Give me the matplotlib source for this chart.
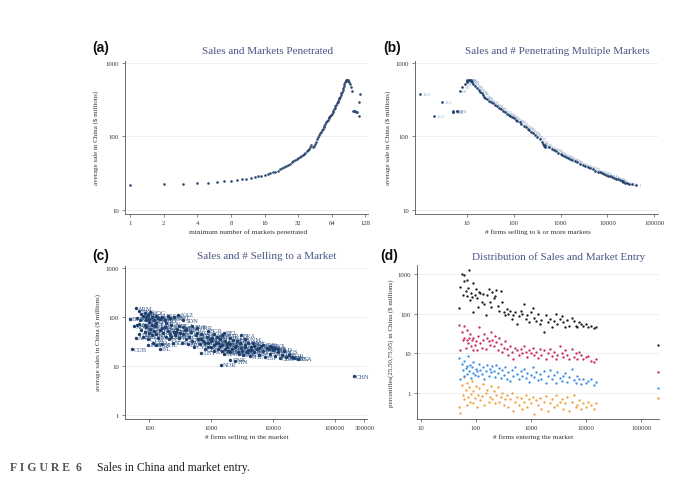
import matplotlib
matplotlib.use("Agg")
import matplotlib.pyplot as plt
from matplotlib.ticker import FixedLocator, FixedFormatter, NullLocator

# ---------------- data ----------------
# Panel (a)/(b): k = minimum number of markets penetrated
k_markets = [1, 2, 3, 4, 5, 6, 7, 8, 9, 10,
             11, 12, 13, 14, 15, 16, 17, 18, 19, 20,
             21, 22, 23, 24, 25, 26, 27, 28, 29, 30,
             31, 32, 33, 34, 35, 36, 37, 38, 39, 40,
             41, 42, 43, 44, 45, 46, 47, 48, 49, 50,
             51, 52, 53, 54, 55, 56, 57, 58, 59, 60,
             61, 62, 63, 64, 65, 66, 67, 68, 69, 70,
             71, 72, 73, 74, 75, 76, 77, 78, 79, 80,
             81, 82, 83, 84, 85, 86, 87, 88, 89, 90,
             91, 93, 96, 98, 100, 102, 104, 106, 108, 111,
             113, 114]
avg_sale = [22.1, 22.4, 22.6, 23.1, 23.3, 24.0, 24.6, 25.1, 25.6, 26.1,
            26.7, 27.3, 28.0, 28.6, 29.3, 30.0, 30.8, 31.6, 32.4, 33.3,
            34.4, 35.6, 36.9, 38.2, 39.6, 41.0, 42.7, 44.6, 46.0, 47.5,
            49.0, 50.6, 52.4, 54.3, 56.1, 58.0, 60.3, 62.7, 65.2, 68.0,
            72.0, 77.0, 71.0, 74.0, 79.0, 85.0, 91.0, 98.0, 104, 110,
            116, 122, 128, 134, 141, 149, 155, 162, 170, 177,
            184, 191, 197, 204, 214, 225, 236, 246, 258, 270,
            282, 294, 308, 322, 336, 350, 365, 385, 405, 424,
            450, 480, 515, 550, 570, 580, 582, 578, 580, 565,
            560, 520, 468, 412, 224, 222, 220, 218, 218, 292,
            192, 380]
n_firms_k = [41000, 33000, 29000, 26000, 23500, 22000, 21000, 20000, 18500, 17000,
             15400, 14100, 12700, 11600, 10400, 9500, 8450, 7600, 6800, 6240,
             5530, 4940, 4330, 3840, 3370, 2990, 2600, 2230, 1990, 1780,
             1600, 1450, 1320, 1190, 1090, 1000, 900, 810, 728, 646,
             555, 475, 455, 435, 415, 395, 356, 314, 284, 258,
             236, 216, 199, 183, 164, 145, 133, 120, 109, 99,
             91, 84, 78.5, 72.4, 65.5, 58.6, 52.6, 48.0, 43.1, 39.1,
             35.5, 32.4, 29.1, 26.4, 24.8, 23.4, 22.0, 20.5, 19.1, 17.9,
             16.4, 15.0, 13.5, 13, 12, 12, 11, 11, 10, 10,
             10, 9, 8, 7, 6, 6, 5, 5, 5, 3,
             2, 1]

# Panel (c): markets
c_codes = ["ARM", "BEN", "AZE", "BFA", "BDI", "CAF", "TCD", "COM", "COG", "DJI",
           "ERI", "GAB", "GMB", "GIN", "GNB", "HTI", "LSO", "LBR", "MWI", "KAZ",
           "SDN", "BTN", "MLI", "MRT", "NER",
           "ABW", "AND", "ATG", "BHS", "BLZ", "BMU", "BRB", "CPV", "CYM", "DMA",
           "FJI", "FRO", "GRD", "GRL", "GUY", "KIR", "LCA", "MDV", "MHL", "MNE",
           "NCL", "PLW", "PNG", "PYF", "SLB", "SMR", "SUR", "SYC", "TON", "TTO",
           "VCT", "VUT", "WSM", "ALB", "BIH", "BOL", "BRN", "CMR", "CIV", "CRI",
           "CYP", "DOM", "ECU", "SLV", "EST", "ETH", "GEO", "GHA", "GTM", "HND",
           "ISL", "CUB", "IRQ", "JAM",
           "LBY", "JOR", "KEN", "KWT", "LVA", "LBN", "LTU", "NOR", "LUX", "MAC",
           "MDG", "MLT", "MUS", "MNG", "DNK", "MAR", "MOZ", "FIN", "NPL", "NZL",
           "NGA", "OMN", "PAK", "VNM", "PAN", "PER", "PHL", "POL", "PRT", "QAT",
           "ROU", "RUS", "SAU", "ZAF", "ESP", "SGP", "SWE", "CHE", "TWN", "THA",
           "GBR", "ARE", "AUS", "DEU", "KOR", "JPN", "HKG", "USA",
           "ARG", "AUT", "BEL", "BGD", "BGR", "BHR", "BLR", "BRA", "CAN", "CHL",
           "COL", "CZE", "DZA", "EGY", "FRA", "GRC", "HRV", "HUN", "IDN", "IND",
           "IRL", "IRN", "ISR", "ITA", "KHM", "LKA", "MEX", "MMR", "MYS", "NLD",
           "SVK", "SVN", "TUN", "TUR", "UKR", "URY", "UZB", "VEN", "YEM", "ZMB",
           "ZWE", "TZA", "UGA", "SEN", "RWA", "SOM", "SLE", "TGO", "SWZ", "NAM",
           "CHN"]
c_firms = [62, 70, 75, 80, 85, 90, 95, 100, 105, 110,
           120, 130, 140, 150, 160, 180, 200, 220, 250, 297,
           358, 49, 65, 72, 88,
           58, 62, 65, 70, 75, 80, 85, 90, 95, 100,
           105, 110, 115, 120, 125, 130, 140, 150, 160, 170,
           180, 190, 200, 210, 220, 230, 240, 250, 265, 280,
           300, 320, 340, 360, 380, 400, 420, 450, 480, 500,
           540, 580, 620, 660, 700, 750, 800, 850, 900, 950,
           150, 52.5, 130, 95,
           700, 1000, 1050, 1100, 1200, 1300, 1400, 1450, 1500, 1600,
           1700, 1800, 1900, 2000, 2050, 2200, 2300, 2470, 2500, 2700,
           2900, 3100, 3300, 3490, 3600, 3900, 4200, 4500, 4800, 5000,
           5500, 6000, 6500, 7000, 7500, 8000, 9000, 10000, 11000, 12000,
           13000, 14000, 15000, 16000, 18000, 20000, 22000, 25000,
           1100, 1250, 1600, 2000, 900, 600, 500, 3000, 4000, 2600,
           1800, 3500, 700, 1300, 9500, 3200, 1100, 2800, 7000, 8500,
           2400, 1500, 4500, 11000, 1400, 1900, 6000, 1500, 9000, 12000,
           2000, 1700, 900, 5000, 3800, 1000, 600, 800, 350, 270,
           230, 400, 300, 190, 160, 130, 110, 100, 85, 70,
           202000]
c_sales = [152, 130, 115, 105, 120, 98, 110, 92, 125, 100,
           88, 105, 95, 90, 100, 85, 105, 95, 100, 111,
           85, 92, 95, 88, 85,
           65, 38, 68, 45, 55, 40, 50, 62, 35, 48,
           58, 42, 30, 52, 65, 45, 38, 55, 28, 48,
           62, 40, 52, 35, 45, 68, 30, 50, 42, 58,
           38, 48, 30, 45, 55, 35, 28, 40, 50, 32,
           25, 42, 36, 28, 45, 33, 22, 40, 30, 36,
           22.6, 21.9, 27, 27,
           18.7, 25, 38, 20, 30, 22, 35, 10.6, 27, 18,
           32, 24, 20, 28, 13.3, 22, 34, 12.4, 26, 19,
           30, 23, 17, 35, 27, 21, 16, 25, 29, 19,
           22, 17, 26, 20, 15, 23, 18, 21, 16, 19,
           14.5, 17, 20, 15, 16.5, 15, 14.5, 14,
           45, 40, 48, 38, 52, 60, 65, 42, 30, 33,
           28, 24, 35, 30, 24, 20, 27, 18, 27, 22,
           24, 20, 21, 23, 26, 30, 23, 42, 26, 22,
           19, 22, 24, 26, 19, 32, 48, 30, 62, 50,
           40, 58, 66, 75, 60, 75, 70, 80, 68, 72,
           6.15]

# Panel (d): firms entering each market and sales percentiles
d_firms = [50, 52, 55, 58, 60, 62, 65, 68, 70, 72,
           75, 78, 80, 85, 88, 90, 95, 100, 105, 110,
           115, 120, 128, 135, 140, 150, 160, 170, 180, 190,
           200, 210, 220, 235, 250, 265, 280, 300, 320, 340,
           360, 390, 420, 450, 480, 520, 560, 600, 650, 700,
           750, 800, 860, 920, 1000, 1080, 1150, 1250, 1350, 1450,
           1550, 1700, 1850, 2000, 2200, 2400, 2600, 2800, 3000, 3300,
           3600, 3900, 4200, 4600, 5000, 5500, 6000, 6500, 7000, 7600,
           8200, 9000, 10000, 11000, 12500, 14000, 15000, 200000]
p95 = [140, 480, 1000, 300, 650, 950, 380, 280, 700, 450,
       1300, 220, 330, 260, 110, 600, 300, 420, 250, 150,
       350, 330, 200, 310, 180, 90, 300, 420, 200, 150,
       350, 250, 280, 400, 160, 120, 380, 200, 110, 90,
       130, 100, 120, 75, 95, 110, 55, 85, 120, 100,
       180, 75, 90, 60, 110, 140, 80, 65, 100, 55,
       70, 35, 90, 60, 75, 45, 65, 100, 55, 75,
       85, 60, 45, 70, 50, 80, 65, 50, 45, 60,
       55, 48, 55, 45, 48, 44, 46, 16]
p75 = [52, 12, 35, 22, 50, 25, 14, 38, 22, 18,
       24, 30, 15, 22, 12, 25, 16, 20, 12, 28,
       45, 18, 14, 22, 30, 13, 25, 20, 16, 35,
       22, 15, 28, 19, 12, 24, 17, 11, 14, 20,
       13, 9, 15, 11, 7, 14, 12, 9, 13, 10,
       15, 11, 8, 12, 10, 14, 9, 11, 7.5, 13,
       9, 12, 7, 10, 13, 8.5, 11, 7, 9, 15,
       10, 8, 12, 9, 7, 13, 8, 10, 7, 11,
       9, 7, 8, 8.5, 6.5, 6, 7, 3.4]
p50 = [7.8, 2.2, 5.5, 3.8, 2.6, 6.5, 4.2, 3.0, 4.8, 8.5,
       3.6, 5.0, 2.4, 4.5, 3.2, 6.0, 2.8, 4.0, 3.5, 2.6,
       5.5, 3.9, 3.0, 4.6, 2.3, 3.5, 5.2, 2.7, 4.1, 3.3,
       4.8, 3.6, 2.5, 5.0, 3.1, 4.2, 2.4, 3.7, 2.8, 4.4,
       2.2, 3.3, 2.0, 3.8, 2.7, 4.5, 3.0, 2.3, 3.6, 2.6,
       4.0, 2.4, 3.2, 1.9, 2.8, 4.6, 2.5, 3.4, 2.1, 3.0,
       2.3, 3.5, 1.8, 2.7, 3.9, 2.2, 2.9, 1.8, 3.3, 2.4,
       2.0, 2.7, 3.2, 1.9, 2.5, 4.0, 2.1, 1.8, 2.6, 2.2,
       1.7, 2.3, 1.8, 2.0, 2.2, 1.6, 1.9, 1.36]
p25 = [0.45, 0.32, 1.6, 0.9, 2.5, 0.7, 1.2, 0.5, 1.8, 0.8,
       1.4, 0.6, 0.95, 2.0, 0.55, 1.1, 0.75, 1.5, 0.45, 0.9,
       1.3, 0.65, 0.85, 1.7, 0.5, 1.0, 1.2, 0.6, 0.8, 1.5,
       0.7, 1.1, 0.55, 0.9, 1.4, 0.6, 0.8, 1.0, 0.5, 0.7,
       0.9, 0.45, 0.7, 1.0, 0.35, 0.6, 0.8, 0.5, 0.75, 0.4,
       0.6, 0.9, 0.45, 0.7, 0.55, 0.8, 0.3, 0.65, 0.5, 0.75,
       0.4, 0.6, 0.85, 0.35, 0.55, 0.7, 0.45, 0.9, 0.5, 0.6,
       0.7, 0.4, 0.55, 0.8, 0.35, 0.6, 0.9, 0.45, 0.5, 0.65,
       0.4, 0.55, 0.45, 0.6, 0.5, 0.4, 0.55, 0.76]

# tick labels
a_xticks = [1, 2, 4, 8, 16, 32, 64, 128]
ab_yticks = [10, 100, 1000]
b_xticks = [10, 100, 1000, 10000, 100000]
c_xticks = [100, 1000, 10000, 100000, 300000]
c_yticks = [1, 10, 100, 1000]
d_xticks = [10, 100, 1000, 10000, 100000]
d_yticks = [1, 10, 100, 1000]

titles = ["Sales and Markets Penetrated", "Sales and # Penetrating Multiple Markets",
          "Sales and # Selling to a Market", "Distribution of Sales and Market Entry"]
xlabels = ["minimum number of markets penetrated", "# firms selling to k or more markets",
           "# firms selling in the market", "# firms entering the market"]
ylabels = ["average sale in China ($ millions)", "average sale in China ($ millions)",
           "average sales in China ($ millions)", "percentiles(25,50,75,95) in China ($ millions)"]

# ---------------- style ----------------
SERIF = ["Liberation Serif", "DejaVu Serif"]
plt.rcParams['font.family'] = SERIF
W, H = 680, 481
NAVY = "#1f3f6b"
TITLE_C = "#4a5585"
AX_C = "#555555"

fig = plt.figure(figsize=(W / 100, H / 100), dpi=100)
fig.patch.set_facecolor("white")


def px_axes(l, t, r, b):
    return fig.add_axes([l / W, 1 - b / H, (r - l) / W, (b - t) / H])


def ft(x, y, s, **kw):
    fig.text(x / W, 1 - y / H, s, **kw)


def style(ax, xt, yt):
    for s in ["top", "right"]:
        ax.spines[s].set_visible(False)
    for s in ["left", "bottom"]:
        ax.spines[s].set_color(AX_C)
        ax.spines[s].set_linewidth(0.6)
    ax.xaxis.set_minor_locator(NullLocator())
    ax.yaxis.set_minor_locator(NullLocator())
    ax.xaxis.set_major_locator(FixedLocator(xt))
    ax.xaxis.set_major_formatter(FixedFormatter([str(v) for v in xt]))
    ax.yaxis.set_major_locator(FixedLocator(yt))
    ax.yaxis.set_major_formatter(FixedFormatter([str(v) for v in yt]))
    ax.tick_params(axis="both", labelsize=4.8, colors="#333333", length=2.5,
                   width=0.5, pad=2)
    ax.tick_params(axis="both", color=AX_C)
    ax.grid(axis="y", color="#ececf0", linewidth=0.6)
    ax.set_axisbelow(True)


ax_a = px_axes(125, 62, 368, 215)
ax_b = px_axes(415, 62, 658, 215)
ax_c = px_axes(125, 267, 367, 420)
ax_d = px_axes(417, 266, 659, 420)

# (a)
ax_a.set_xscale("log", base=2)
ax_a.set_yscale("log")
ax_a.scatter(k_markets, avg_sale, s=3.5, color="#2d4a70", linewidths=0, zorder=3)
ax_a.set_xlim(0.9, 135)
ax_a.set_ylim(8.8, 1065)
style(ax_a, a_xticks, ab_yticks)

# (b)
ax_b.set_xscale("log")
ax_b.set_yscale("log")
for k, n, y in zip(k_markets, n_firms_k, avg_sale):
    ax_b.annotate(str(k), (n, y), xytext=(1.6, 0), textcoords="offset points",
                  fontsize=3.9, color="#9cb2cf", ha="left", va="center", zorder=2)
ax_b.scatter(n_firms_k, avg_sale, s=3.5, color=NAVY, linewidths=0, zorder=3)
ax_b.set_xlim(0.78, 120000)
ax_b.set_ylim(8.8, 1065)
style(ax_b, b_xticks, ab_yticks)

# (c)
ax_c.set_xscale("log")
ax_c.set_yscale("log")
for code, n, y in zip(c_codes, c_firms, c_sales):
    ax_c.annotate(code, (n, y), xytext=(1.5, 0), textcoords="offset points",
                  fontsize=4.6, color="#3a5a8a", ha="left", va="center", zorder=2)
ax_c.scatter(c_firms, c_sales, s=6, color=NAVY, linewidths=0, zorder=3)
ax_c.set_xlim(41, 330000)
ax_c.set_ylim(0.83, 1100)
style(ax_c, c_xticks, c_yticks)

# (d)
ax_d.set_xscale("log")
ax_d.set_yscale("log")
for vals, col in [(p25, "#f0a03c"), (p50, "#3d8ee6"), (p75, "#c9285a"), (p95, "#1a1a1a")]:
    ax_d.scatter(d_firms, vals, s=2.8, color=col, linewidths=0, zorder=3)
ax_d.set_xlim(8.5, 212000)
ax_d.set_ylim(0.22, 1690)
style(ax_d, d_xticks, d_yticks)

# texts
ft(268, 52, titles[0], fontsize=8, color=TITLE_C, ha="center", va="center")
ft(557, 52, titles[1], fontsize=8, color=TITLE_C, ha="center", va="center")
ft(267, 257, titles[2], fontsize=8, color=TITLE_C, ha="center", va="center")
ft(559, 257, titles[3], fontsize=8, color=TITLE_C, ha="center", va="center")

for (x, y), lab in zip([(101, 48), (392, 48), (101, 256), (389, 256)], ["(a)", "(b)", "(c)", "(d)"]):
    ft(x, y, lab, fontsize=10, fontweight="bold", family=["Liberation Sans", "DejaVu Sans"],
       ha="center", va="center", color="#111111")

ft(248, 232, xlabels[0], fontsize=5.2, color="#333333", ha="center", va="center")
ft(538, 232, xlabels[1], fontsize=5.2, color="#333333", ha="center", va="center")
ft(247, 437, xlabels[2], fontsize=5.2, color="#333333", ha="center", va="center")
ft(533, 437, xlabels[3], fontsize=5.2, color="#333333", ha="center", va="center")

ft(96, 138, ylabels[0], fontsize=5.0, color="#333333", ha="center", va="center", rotation=90)
ft(388, 138, ylabels[1], fontsize=5.0, color="#333333", ha="center", va="center", rotation=90)
ft(98, 343, ylabels[2], fontsize=5.0, color="#333333", ha="center", va="center", rotation=90)
ft(391, 343, ylabels[3], fontsize=5.0, color="#333333", ha="center", va="center", rotation=90)

ft(10, 468, "F I G U R E  6", fontsize=8.5, fontweight="bold", color="#555555",
   ha="left", va="center")
ft(97, 468, "Sales in China and market entry.", fontsize=8.5, color="#222222",
   ha="left", va="center")

fig.savefig("out.png", dpi=100, facecolor="white")
